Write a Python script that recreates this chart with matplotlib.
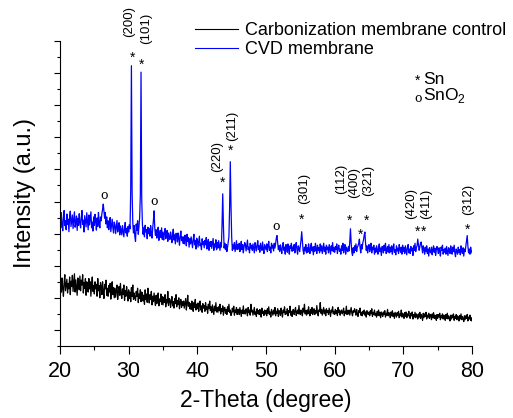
import matplotlib
matplotlib.use("Agg")
import matplotlib.pyplot as plt
from matplotlib.lines import Line2D
import numpy as np

plt.rcParams['font.family'] = ['Liberation Sans', 'DejaVu Sans']
plt.rcParams['mathtext.fontset'] = 'custom'
plt.rcParams['mathtext.rm'] = 'Liberation Sans'

# XRD scans, 20-80 deg in 0.1 deg steps (one row per degree)
two_theta = np.round(np.arange(20.0, 80.001, 0.1), 1)

cvd = [
    352, 318, 365, 330, 309, 347, 372, 325, 340, 312,
    361, 329, 345, 306, 352, 370, 322, 339, 358, 316,
    344, 368, 320, 333, 355, 310, 348, 326, 362, 335,
    318, 350, 372, 329, 342, 305, 356, 338, 321, 365,
    340, 312, 358, 327, 349, 368, 318, 336, 308, 352,
    326, 360, 338, 311, 349, 322, 366, 334, 318, 352,
    340, 362, 375, 392, 370, 348, 366, 330, 352, 318,
    340, 312, 333, 350, 306, 327, 345, 318, 302, 336,
    328, 300, 322, 341, 305, 318, 334, 296, 324, 310,
    296, 325, 308, 290, 318, 335, 302, 316, 292, 322,
    305, 328, 315, 440, 823, 430, 334, 302, 325, 290,
    276, 330, 310, 340, 298, 322, 350, 420, 803, 410,
    330, 298, 318, 290, 326, 305, 312, 284, 320, 300,
    315, 292, 325, 302, 286, 318, 340, 371, 318, 295,
    312, 286, 305, 320, 279, 298, 310, 288, 318, 282,
    305, 280, 300, 316, 284, 294, 310, 276, 302, 289,
    282, 305, 290, 272, 300, 314, 280, 296, 268, 301,
    296, 274, 302, 285, 264, 292, 308, 278, 290, 270,
    290, 268, 295, 280, 262, 298, 276, 288, 258, 284,
    268, 290, 274, 256, 282, 298, 265, 279, 252, 286,
    280, 258, 276, 292, 262, 270, 250, 284, 266, 275,
    256, 279, 265, 288, 252, 270, 282, 248, 274, 260,
    276, 254, 270, 285, 248, 268, 258, 281, 250, 272,
    255, 278, 262, 248, 272, 258, 330, 424, 325, 255,
    270, 250, 266, 244, 258, 275, 290, 380, 524, 390,
    290, 248, 265, 252, 272, 244, 262, 278, 250, 266,
    252, 270, 244, 262, 276, 250, 266, 240, 258, 272,
    266, 246, 262, 280, 250, 258, 240, 270, 255, 264,
    248, 268, 255, 240, 272, 260, 246, 265, 278, 250,
    262, 242, 270, 256, 248, 274, 252, 238, 266, 258,
    250, 268, 244, 262, 276, 248, 258, 240, 270, 255,
    264, 246, 270, 255, 268, 286, 294, 272, 250, 262,
    244, 265, 250, 238, 262, 272, 248, 258, 236, 266,
    260, 242, 268, 250, 236, 262, 254, 270, 245, 258,
    248, 266, 240, 258, 272, 250, 236, 262, 255, 244,
    262, 280, 306, 275, 248, 236, 258, 246, 266, 240,
    256, 242, 268, 250, 238, 262, 270, 246, 258, 234,
    260, 245, 270, 252, 238, 264, 248, 256, 240, 268,
    246, 262, 238, 255, 270, 244, 258, 236, 264, 250,
    258, 240, 266, 252, 236, 262, 248, 272, 244, 256,
    242, 260, 250, 268, 238, 256, 264, 245, 252, 236,
    262, 248, 270, 240, 255, 266, 236, 258, 250, 244,
    260, 246, 275, 315, 272, 242, 232, 256, 240, 262,
    248, 268, 244, 258, 262, 270, 283, 256, 240, 266,
    252, 272, 280, 295, 305, 270, 248, 262, 240, 258,
    266, 244, 256, 270, 240, 258, 250, 264, 236, 255,
    242, 262, 250, 236, 258, 268, 244, 255, 232, 260,
    256, 240, 264, 248, 270, 238, 252, 260, 242, 266,
    240, 258, 244, 262, 236, 255, 268, 242, 250, 234,
    262, 246, 255, 238, 266, 250, 242, 258, 236, 264,
    244, 256, 238, 262, 248, 234, 258, 266, 240, 252,
    238, 260, 246, 255, 232, 262, 248, 270, 244, 256,
    262, 283, 266, 248, 258, 270, 274, 256, 240, 262,
    250, 236, 258, 244, 262, 238, 252, 230, 256, 245,
    240, 258, 234, 250, 262, 242, 255, 232, 248, 260,
    252, 238, 256, 244, 230, 258, 248, 264, 236, 250,
    242, 255, 236, 260, 246, 232, 256, 248, 238, 262,
    250, 236, 258, 244, 264, 240, 228, 252, 246, 236,
    258, 242, 250, 234, 262, 246, 238, 256, 230, 252,
    244, 260, 275, 294, 262, 240, 252, 236, 258, 246,
    240,
]

control = [
    70, 150, 118, 162, 128, 105, 148, 172, 122, 140,
    158, 115, 145, 128, 165, 110, 152, 136, 170, 120,
    148, 175, 118, 156, 132, 108, 162, 140, 125, 168,
    122, 155, 140, 172, 115, 148, 130, 160, 108, 150,
    145, 118, 160, 128, 150, 105, 142, 165, 120, 138,
    112, 150, 128, 142, 105, 160, 122, 138, 100, 148,
    135, 110, 150, 120, 98, 142, 128, 155, 108, 130,
    105, 138, 118, 145, 96, 128, 150, 110, 132, 100,
    130, 102, 125, 140, 95, 118, 135, 108, 145, 112,
    98, 128, 110, 140, 92, 122, 105, 135, 115, 90,
    125, 98, 118, 88, 132, 104, 140, 95, 115, 100,
    92, 120, 105, 130, 85, 112, 98, 125, 88, 118,
    115, 90, 108, 80, 125, 95, 112, 86, 130, 100,
    84, 110, 95, 120, 78, 105, 88, 115, 92, 76,
    108, 82, 100, 115, 75, 96, 88, 112, 80, 104,
    78, 102, 86, 110, 72, 95, 84, 120, 76, 98,
    95, 70, 90, 104, 75, 88, 68, 98, 82, 110,
    72, 92, 80, 100, 66, 86, 95, 70, 88, 76,
    90, 68, 84, 98, 62, 82, 108, 74, 86, 66,
    82, 64, 90, 72, 58, 85, 70, 95, 62, 80,
    66, 84, 58, 78, 90, 62, 75, 55, 82, 68,
    76, 58, 85, 64, 72, 52, 80, 66, 90, 60,
    72, 54, 78, 62, 48, 74, 60, 85, 56, 70,
    55, 72, 60, 80, 50, 66, 58, 75, 46, 68,
    70, 52, 64, 48, 72, 58, 80, 54, 62, 45,
    52, 68, 56, 74, 46, 62, 55, 70, 48, 64,
    64, 48, 70, 55, 42, 62, 52, 75, 50, 60,
    50, 66, 58, 44, 70, 54, 62, 46, 80, 56,
    62, 46, 58, 70, 48, 56, 42, 66, 52, 60,
    48, 64, 55, 40, 68, 52, 58, 45, 62, 50,
    60, 44, 66, 52, 72, 48, 56, 40, 64, 55,
    46, 62, 50, 70, 44, 58, 52, 66, 42, 60,
    58, 45, 68, 52, 40, 62, 55, 72, 48, 56,
    50, 66, 44, 60, 54, 74, 46, 58, 42, 62,
    64, 48, 58, 70, 45, 56, 62, 50, 76, 52,
    48, 62, 54, 44, 68, 56, 80, 50, 60, 46,
    62, 50, 72, 56, 44, 64, 52, 70, 48, 58,
    66, 48, 60, 52, 76, 54, 44, 62, 58, 85,
    52, 64, 46, 58, 70, 50, 62, 44, 66, 55,
    60, 48, 68, 54, 42, 62, 56, 72, 50, 58,
    48, 64, 52, 60, 45, 70, 54, 62, 46, 58,
    62, 50, 56, 68, 44, 58, 52, 74, 48, 60,
    50, 62, 46, 58, 70, 52, 44, 60, 55, 66,
    58, 46, 64, 50, 42, 60, 54, 68, 46, 55,
    44, 58, 50, 62, 46, 56, 40, 60, 52, 48,
    56, 44, 60, 50, 66, 42, 55, 48, 62, 45,
    52, 40, 58, 46, 62, 44, 55, 38, 56, 50,
    42, 56, 48, 60, 40, 52, 46, 64, 44, 54,
    50, 38, 56, 44, 60, 42, 52, 36, 55, 48,
    40, 54, 46, 58, 38, 50, 44, 62, 40, 52,
    48, 36, 54, 42, 56, 38, 50, 44, 58, 40,
    36, 52, 44, 56, 34, 48, 40, 55, 38, 50,
    46, 34, 50, 40, 55, 36, 48, 42, 30, 52,
    38, 50, 42, 55, 34, 46, 40, 52, 36, 48,
    44, 32, 50, 38, 54, 36, 46, 40, 30, 48,
    36, 48, 40, 52, 32, 44, 38, 50, 34, 46,
    42, 30, 48, 36, 52, 34, 44, 38, 28, 46,
    34, 46, 38, 50, 30, 42, 36, 48, 32, 44,
    40, 28, 45, 34, 50, 32, 42, 36, 26, 44,
    32, 44, 36, 48, 28, 40, 34, 46, 30, 38,
    28,
]

# Sn reflections
sn_hkl = ['(200)', '(101)', '(220)', '(211)', '(301)', '(112)',
          '(400)', '(321)', '(420)', '(411)', '(312)']
# where the asterisk and the hkl text sit
star_x = [30.5, 31.9, 43.6, 44.8, 55.2, 62.2, 63.7, 64.6, 72.1, 73.0, 79.3]
star_y = [860, 838, 470, 570, 355, 352, 308, 352, 318, 318, 324]
hkl_x = [30.1, 32.5, 42.9, 45.1, 55.6, 60.9, 62.9, 64.9, 71.2, 73.3, 79.4]
hkl_y = [913, 891, 492, 589, 392, 424, 410, 417, 346, 346, 358]

# SnO2 reflections
sno2_pos = [26.4, 33.7, 51.5]
sno2_y = [420, 399, 321]

fig = plt.figure(figsize=(5.13, 4.18), dpi=100)
ax = fig.add_axes([60 / 513, 72 / 418, 412 / 513, 305 / 418])

ax.plot(two_theta, control, color='black', lw=0.9)
ax.plot(two_theta, cvd, color='#0000ff', lw=0.9)

for x, y in zip(star_x, star_y):
    ax.text(x, y - 12, '*', fontsize=10, ha='center', va='center')
for x, y, s in zip(hkl_x, hkl_y, sn_hkl):
    ax.text(x, y, s, fontsize=9.5, rotation=90, ha='center', va='bottom')
for x, y in zip(sno2_pos, sno2_y):
    ax.text(x, y, 'o', fontsize=9, ha='center', va='center', family='DejaVu Serif')

ax.text(72.1, 776, '*', fontsize=10, ha='center', va='center')
ax.text(72.9, 779, 'Sn', fontsize=12.5, ha='left', va='center')
ax.text(72.1, 720, 'o', fontsize=9, ha='center', va='center', family='DejaVu Serif')
ax.text(72.9, 729, r'SnO$_\mathregular{2}$', fontsize=12.5, ha='left', va='center')

ax.set_xlim(20, 80)
ax.set_ylim(-50, 900)
ax.set_xticks(np.arange(20, 81, 10))
ax.set_xticks(np.arange(25, 80, 10), minor=True)
ax.set_yticks(np.arange(0, 901, 100))
ax.set_yticks(np.arange(-50, 900, 100), minor=True)
ax.set_yticklabels([])
ax.spines['top'].set_visible(False)
ax.spines['right'].set_visible(False)
ax.tick_params(axis='x', which='major', direction='out', length=5.5, width=0.8, labelsize=15.5, pad=5)
ax.tick_params(axis='x', which='minor', direction='out', length=3, width=0.8)
ax.tick_params(axis='y', which='major', direction='out', length=4, width=0.8)
ax.tick_params(axis='y', which='minor', direction='out', length=2.5, width=0.8)

ax.set_xlabel('2-Theta (degree)', fontsize=16.5, labelpad=5)
ax.set_ylabel('Intensity (a.u.)', fontsize=17, labelpad=10)

handles = [Line2D([], [], color='black', lw=0.8), Line2D([], [], color='#0000ff', lw=0.8)]
fig.legend(handles, ['Carbonization membrane control', 'CVD membrane'],
           loc='upper left', bbox_to_anchor=(195 / 513, 1 - 22 / 418), frameon=False,
           fontsize=13, handlelength=2.4, handletextpad=0.35, labelspacing=0.12,
           borderpad=0, borderaxespad=0)

fig.savefig('out.png', dpi=100)
